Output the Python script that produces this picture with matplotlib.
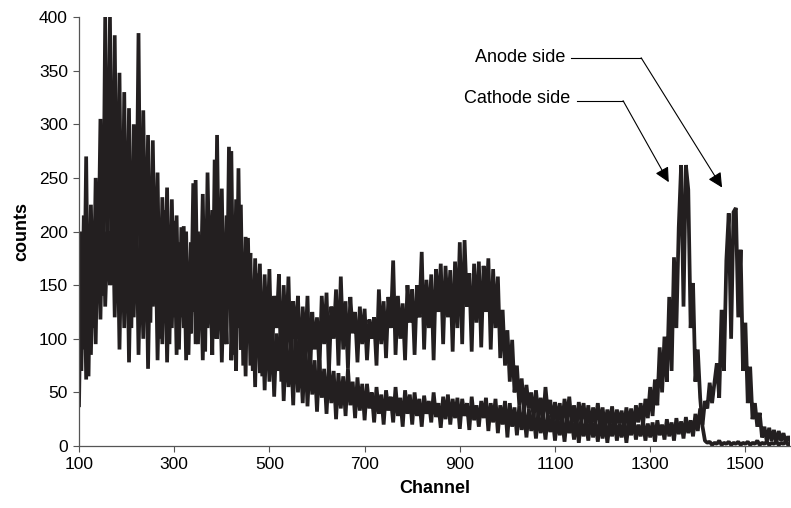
import numpy as np
import matplotlib.pyplot as plt

plt.rcParams['font.family'] = ['Liberation Sans', 'DejaVu Sans']

# channel grid (every 5th channel)
channels = np.arange(100, 1600, 5)

# cathode side spectrum (peak near channel 1370), one row per 100 channels
cathode = [
    190, 70, 215, 62, 180, 85, 205, 95, 230, 118, 245, 130, 200, 150, 250, 120, 235, 90, 215, 110,
    230, 78, 205, 120, 240, 85, 190, 100, 225, 72, 200, 130, 215, 80, 185, 95, 220, 78, 175, 110,
    210, 85, 190, 120, 205, 80, 170, 105, 245, 95, 200, 130, 235, 88, 255, 140, 220, 100, 290, 120,
    240, 95, 215, 140, 275, 85, 230, 110, 225, 75, 195, 120, 180, 70, 175, 105, 170, 65, 160, 95,
    165, 75, 140, 110, 160, 60, 150, 90, 158, 70, 135, 100, 140, 62, 130, 85, 140, 60, 125, 90,
    120, 70, 140, 95, 143, 68, 130, 100, 146, 75, 158, 90, 135, 72, 139, 105, 125, 78, 130, 95,
    128, 80, 118, 100, 120, 75, 146, 95, 135, 82, 139, 110, 173, 85, 140, 100, 133, 80, 150, 115,
    146, 85, 150, 120, 181, 90, 155, 110, 160, 80, 165, 125, 170, 95, 168, 120, 164, 88, 172, 110,
    190, 95, 192, 130, 161, 88, 170, 115, 172, 92, 168, 125, 175, 90, 165, 110, 158, 82, 127, 75,
    108, 60, 99, 50, 75, 38, 63, 32, 57, 35, 50, 25, 52, 28, 45, 22, 55, 30, 43, 20,
    41, 22, 40, 18, 44, 25, 46, 20, 38, 17, 41, 24, 40, 19, 38, 15, 36, 22, 40, 18,
    36, 16, 34, 20, 37, 14, 34, 21, 33, 16, 36, 19, 35, 15, 38, 22, 40, 20, 44, 26,
    55, 28, 62, 38, 92, 50, 102, 60, 139, 70, 176, 110, 204, 262, 130, 262, 239, 110, 152, 60,
    90, 45, 18, 5, 3, 4, 1, 3, 2, 5, 1, 3, 2, 4, 1, 3, 2, 4, 1, 3,
    2, 4, 1, 3, 2, 5, 1, 3, 2, 4, 1, 3, 2, 4, 1, 3, 2, 4, 1, 3,
]

# anode side spectrum (peak near channel 1475)
anode = [
    38, 200, 90, 270, 65, 225, 110, 250, 150, 305, 140, 400, 175, 400, 150, 383, 160, 348, 125, 330,
    140, 315, 110, 300, 170, 385, 120, 313, 150, 290, 115, 285, 140, 255, 100, 232, 130, 241, 95, 230,
    120, 215, 90, 204, 110, 200, 85, 190, 125, 248, 95, 185, 80, 200, 110, 170, 85, 267, 100, 175,
    78, 165, 95, 279, 80, 160, 70, 259, 90, 170, 65, 194, 75, 150, 55, 161, 68, 130, 52, 125,
    60, 118, 46, 105, 70, 115, 42, 100, 55, 95, 38, 110, 50, 88, 40, 98, 37, 85, 48, 80,
    32, 80, 45, 72, 30, 75, 40, 70, 25, 68, 35, 65, 28, 72, 38, 60, 26, 64, 33, 58,
    24, 58, 35, 50, 22, 55, 30, 48, 20, 52, 33, 46, 22, 55, 28, 45, 18, 52, 30, 48,
    20, 50, 28, 44, 18, 47, 30, 42, 22, 50, 27, 40, 17, 46, 25, 48, 20, 44, 26, 45,
    16, 44, 28, 40, 15, 46, 24, 38, 18, 42, 26, 45, 14, 40, 22, 44, 12, 38, 20, 42,
    8, 40, 18, 36, 10, 38, 15, 33, 8, 35, 14, 30, 7, 32, 12, 28, 6, 30, 13, 27,
    5, 28, 10, 25, 4, 27, 12, 24, 6, 26, 3, 25, 9, 22, 5, 27, 8, 23, 4, 25,
    7, 24, 3, 22, 9, 25, 5, 21, 8, 24, 3, 22, 10, 25, 6, 20, 9, 23, 5, 21,
    8, 22, 4, 24, 10, 20, 6, 25, 9, 22, 5, 26, 11, 23, 7, 27, 12, 24, 9, 30,
    14, 35, 20, 42, 35, 59, 40, 59, 77, 45, 127, 70, 173, 217, 100, 218, 222, 120, 183, 70,
    115, 40, 74, 25, 40, 18, 31, 8, 18, 4, 17, 5, 15, 3, 14, 5, 12, 3, 9, 4,
]

xticks = [100, 300, 500, 700, 900, 1100, 1300, 1500]
yticks = [0, 50, 100, 150, 200, 250, 300, 350, 400]

fig = plt.figure(figsize=(7.91, 5.08), dpi=100)
ax = fig.add_axes([0.0999, 0.122, 0.899, 0.8445])

ax.plot(channels, anode, color='#231f20', lw=2.7, solid_joinstyle='bevel')
ax.plot(channels, cathode, color='#231f20', lw=2.7, solid_joinstyle='bevel')

ax.set_xlim(100, 1594)
ax.set_ylim(0, 400)
ax.set_xticks(xticks)
ax.set_yticks(yticks)
ax.tick_params(labelsize=12.5, length=4, width=0.8, color='#555555', pad=4)
for side in ['top', 'right']:
    ax.spines[side].set_visible(False)
for side in ['left', 'bottom']:
    ax.spines[side].set_color('#555555')
    ax.spines[side].set_linewidth(0.9)

ax.set_xlabel('Channel', fontsize=13, fontweight='bold', labelpad=6)
ax.set_ylabel('counts', fontsize=13, fontweight='bold', labelpad=6)

# callouts
ax.text(1121, 362, 'Anode side', fontsize=13, ha='right', va='center')
ax.plot([1134, 1281], [362, 362], color='black', lw=0.8)
ax.annotate('', xy=(1451, 241), xytext=(1281, 362),
            arrowprops=dict(arrowstyle='-|>', color='black', lw=0.8,
                            mutation_scale=22, shrinkA=0, shrinkB=0))

ax.text(1131, 324, 'Cathode side', fontsize=13, ha='right', va='center')
ax.plot([1146, 1243], [322, 322], color='black', lw=0.8)
ax.annotate('', xy=(1339, 246), xytext=(1243, 322),
            arrowprops=dict(arrowstyle='-|>', color='black', lw=0.8,
                            mutation_scale=22, shrinkA=0, shrinkB=0))

fig.savefig('out.png', dpi=100)
